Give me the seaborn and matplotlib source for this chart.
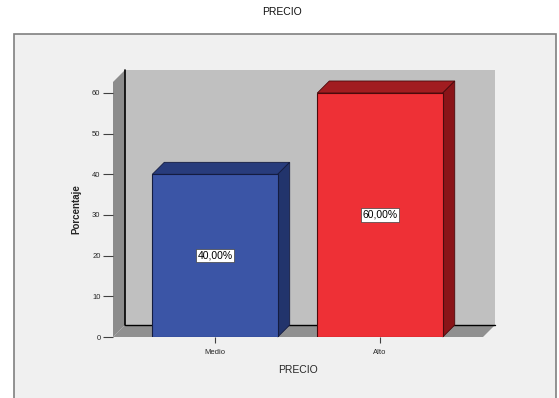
import numpy as np
import pandas as pd
import matplotlib
matplotlib.use("Agg")
import matplotlib.pyplot as plt
import matplotlib.transforms as mtransforms
from matplotlib.patches import Polygon, Rectangle
import seaborn as sns

# data
categories = ["Medio", "Alto"]
percentages = [40.0, 60.0]
bar_labels = ["40,00%", "60,00%"]
yticks = [0, 10, 20, 30, 40, 50, 60]

front_colors = ["#3b55a6", "#ee3036"]
top_colors = ["#283c7c", "#a11c20"]
side_colors = ["#22346c", "#8a1418"]
edge_colors = ["#141c40", "#4a0a0c"]

DEPTH = 12  # px of fake 3d depth

sns.set_style("white")
plt.rcParams["font.family"] = ["Liberation Sans", "DejaVu Sans"]

fig = plt.figure(figsize=(5.59, 3.98), dpi=100)
fig.patch.set_facecolor("white")

# outer chart frame
frame = Rectangle((14 / 559, -0.01), 542 / 559, 1 - 34 / 398 + 0.01,
                  transform=fig.transFigure, facecolor="#f0f0f0",
                  edgecolor="#808080", linewidth=1.2, zorder=-5)
fig.patches.append(frame)
fig.text(0.505, 1 - 12 / 398, "PRECIO", ha="center", va="center",
         fontsize=7.5, color="#101010")

ax = fig.add_axes([113 / 559, 1 - 337 / 398, 370 / 559, 255 / 398])
ax.set_facecolor("none")

df = pd.DataFrame({"PRECIO": categories, "Porcentaje": percentages})
sns.barplot(data=df, x="PRECIO", y="Porcentaje", hue="PRECIO",
            palette=front_colors, saturation=1, width=0.76, legend=False,
            ax=ax, linewidth=0.8, zorder=3)

ytop = 60 * 255 / 244
ax.set_ylim(0, ytop)
ax.set_xlim(-0.618, 1.624)
x0, x1 = ax.get_xlim()

ident = mtransforms.IdentityTransform()


def disp(x, y, off=0):
    px, py = ax.transData.transform((x, y))
    return (px + off, py + off)


def poly(pts, fc, ec="none", lw=0.0, z=1):
    p = Polygon(pts, closed=True, facecolor=fc, edgecolor=ec, linewidth=lw,
                transform=ident, clip_on=False, zorder=z)
    ax.add_patch(p)


# back wall
poly([disp(x0, 0, DEPTH), disp(x1, 0, DEPTH), disp(x1, ytop, DEPTH),
      disp(x0, ytop, DEPTH)], "#c0c0c0", z=0)
# left side wall
poly([disp(x0, 0), disp(x0, 0, DEPTH), disp(x0, ytop, DEPTH),
      disp(x0, ytop)], "#8c8c8c", z=0.5)
# floor
poly([disp(x0, 0), disp(x1, 0), disp(x1, 0, DEPTH), disp(x0, 0, DEPTH)],
     "#909090", z=0.5)
# dark edges of the wall
ax.plot([disp(x0, 0, DEPTH)[0], disp(x0, ytop, DEPTH)[0]],
        [disp(x0, 0, DEPTH)[1], disp(x0, ytop, DEPTH)[1]],
        color="black", lw=1.2, transform=ident, clip_on=False, zorder=0.8)
ax.plot([disp(x0, 0, DEPTH)[0], disp(x1, 0, DEPTH)[0]],
        [disp(x0, 0, DEPTH)[1], disp(x1, 0, DEPTH)[1]],
        color="black", lw=1.0, transform=ident, clip_on=False, zorder=0.8)

# 3d faces of the bars
for i, bar in enumerate(ax.patches[:len(categories)]):
    bar.set_edgecolor(edge_colors[i])
    bx, bw, bh = bar.get_x(), bar.get_width(), bar.get_height()
    poly([disp(bx, bh), disp(bx + bw, bh), disp(bx + bw, bh, DEPTH),
          disp(bx, bh, DEPTH)], top_colors[i], ec=edge_colors[i], lw=0.6, z=2.5)
    poly([disp(bx + bw, 0), disp(bx + bw, 0, DEPTH), disp(bx + bw, bh, DEPTH),
          disp(bx + bw, bh)], side_colors[i], ec=edge_colors[i], lw=0.6, z=2.5)
    ax.text(bx + bw / 2, bh / 2, bar_labels[i], ha="center", va="center",
            fontsize=7.5, color="black", zorder=5,
            bbox=dict(boxstyle="square,pad=0.15", facecolor="white",
                      edgecolor="#404040", linewidth=0.5))

for s in ax.spines.values():
    s.set_visible(False)

ax.set_yticks(yticks)
ax.set_yticklabels([str(t) for t in yticks])
ax.tick_params(axis="y", length=7, width=0.8, labelsize=5.5, pad=2,
               left=True, color="#404040")
ax.tick_params(axis="x", length=4, width=0.8, labelsize=5.5, pad=5,
               bottom=True, color="#404040")
ax.set_ylabel("Porcentaje", fontsize=7, fontweight="bold", labelpad=8)
ax.set_xlabel("PRECIO", fontsize=7.5, labelpad=6)

fig.savefig("out.png", dpi=100)
